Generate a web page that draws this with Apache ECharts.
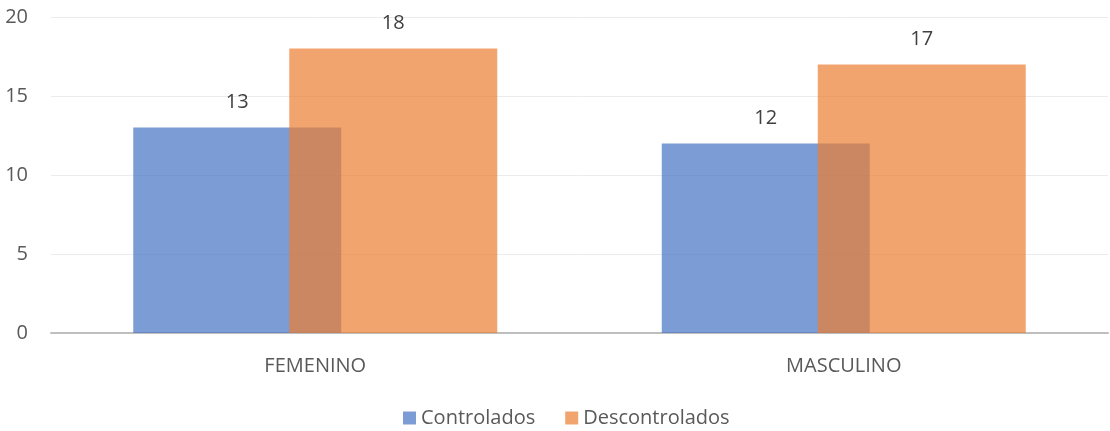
<!DOCTYPE html>
<html>
<head>
<meta charset="utf-8">
<script src="https://cdn.jsdelivr.net/npm/echarts@6/dist/echarts.min.js"></script>
<style>
  html, body { margin: 0; padding: 0; background: #ffffff; }
  #chart { width: 1110px; height: 431px; }
</style>
</head>
<body>
<div id="chart"></div>
<script>
// Patients by sex: controlled vs. uncontrolled counts
const categories = ['FEMENINO', 'MASCULINO'];
const controlados = [13, 12];
const descontrolados = [18, 17];
const yTicks = { min: 0, max: 20, interval: 5 };

const FONT = '"Open Sans", "Liberation Sans", sans-serif';

const chart = echarts.init(document.getElementById('chart'), null, { renderer: 'canvas' });

const valueLabel = {
  show: true,
  position: 'top',
  distance: 15,
  color: '#404040',
  opacity: 1,
  fontFamily: FONT,
  fontSize: 20
};

chart.setOption({
  animation: false,
  backgroundColor: '#ffffff',
  grid: { left: 51, right: 2, top: 17, bottom: 98, containLabel: false },
  legend: {
    left: 398,
    top: 403,
    itemWidth: 13,
    itemHeight: 13,
    itemGap: 30,
    icon: 'rect',
    textStyle: { color: '#595959', fontFamily: FONT, fontSize: 20 },
    data: ['Controlados', 'Descontrolados']
  },
  xAxis: {
    type: 'category',
    data: categories,
    axisLine: { lineStyle: { color: '#bfbfbf', width: 2 } },
    axisTick: { show: false },
    axisLabel: { color: '#595959', fontFamily: FONT, fontSize: 20, margin: 23 }
  },
  yAxis: {
    type: 'value',
    min: yTicks.min,
    max: yTicks.max,
    interval: yTicks.interval,
    axisLine: { show: false },
    axisTick: { show: false },
    axisLabel: { color: '#595959', fontFamily: FONT, fontSize: 20, margin: 23 },
    splitLine: { lineStyle: { color: '#ececec', width: 1 } }
  },
  series: [
    {
      name: 'Controlados',
      type: 'bar',
      data: controlados,
      barWidth: 208,
      barGap: '-25%',
      itemStyle: { color: 'rgba(68,114,196,0.7)' },
      label: valueLabel
    },
    {
      name: 'Descontrolados',
      type: 'bar',
      data: descontrolados,
      barWidth: 208,
      barGap: '-25%',
      itemStyle: { color: 'rgba(237,125,49,0.7)' },
      label: valueLabel
    }
  ]
});
</script>
</body>
</html>
